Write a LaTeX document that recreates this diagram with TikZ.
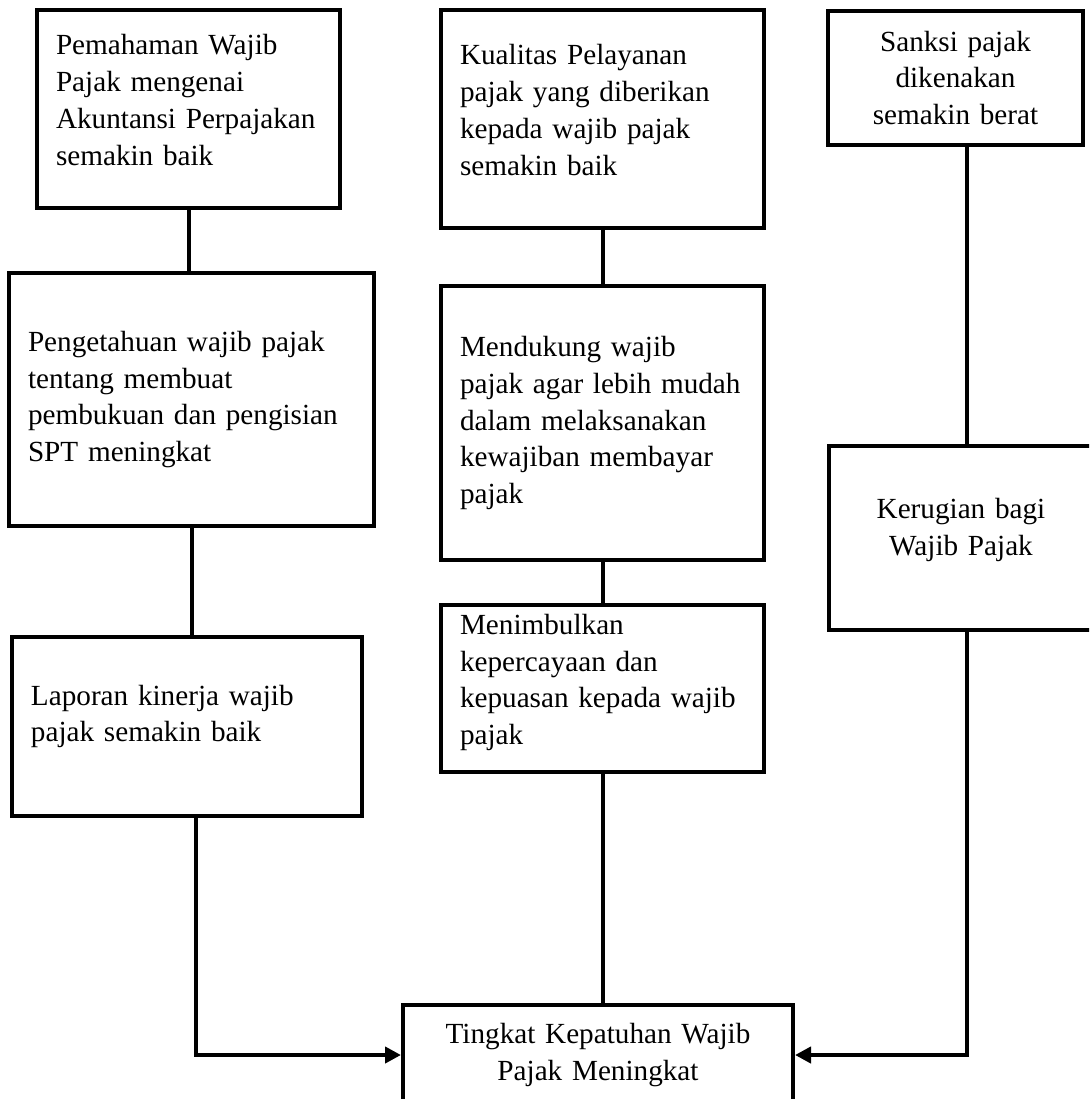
\documentclass[tikz,border=0pt]{standalone}
\usepackage{fontspec}
\setmainfont{Liberation Serif}
\usetikzlibrary{arrows.meta,positioning}
\hyphenpenalty=10000

\begin{document}
\begin{tikzpicture}[x=0.5pt,y=-0.5pt,
  every node/.style={font=\fontsize{14.6}{18.35}\selectfont},
  box/.style={draw,line width=2pt,inner xsep=9.5pt,inner ysep=0pt,align=left},
  cbox/.style={draw,line width=2pt,inner sep=0pt,align=center},
  conn/.style={line width=2pt},
  tip/.style={-{Triangle[length=8pt,width=8pt]}}]
\useasboundingbox (0,0) rectangle (1089,1099);
\clip (0,0) rectangle (1089,1099);
\fill[white] (0,0) rectangle (1089,1099);
% left column
\node[box,text width=132.5pt,minimum height=99pt] (pwp) at (188.5,109) {Pemahaman Wajib\\Pajak mengenai\\Akuntansi Perpajakan\\semakin baik\par\kern9pt};
\node[box,text width=163.5pt,minimum height=126.5pt] (pgt) at (191.5,399.5) {Pengetahuan wajib pajak\\tentang membuat\\pembukuan dan pengisian\\SPT meningkat};
\node[box,text width=156pt,minimum height=89.5pt] (lpr) at (187,726.5) {Laporan kinerja wajib\\pajak semakin baik\par\kern10pt};
% middle column
\node[box,text width=142.5pt,minimum height=109pt] (kpl) at (602.5,119) {Kualitas Pelayanan\\pajak yang diberikan\\kepada wajib pajak\\semakin baik\par\kern9pt};
\node[box,text width=142.5pt,minimum height=137pt] (pyn) at (602.5,423) {Mendukung wajib\\pajak agar lebih mudah\\dalam melaksanakan\\kewajiban membayar\\pajak};
\node[box,text width=142.5pt,minimum height=83.5pt] (mnb) at (602.5,688.5) {Menimbulkan\\kepercayaan dan\\kepuasan kepada wajib\\pajak\par\kern6pt};
% right column
\node[cbox,text width=127.5pt,minimum height=67pt] (snk) at (955.5,78) {Sanksi pajak\\dikenakan\\semakin berat};
\node[cbox,text width=132pt,minimum height=92pt] (krg) at (961,538) {Kerugian bagi\\Wajib Pajak\par\kern8pt};
% result
\node[cbox,text width=195pt,minimum height=50pt] (tkp) at (598,1055) {Tingkat Kepatuhan Wajib\\Pajak Meningkat};
% connectors
\draw[conn] (pwp.south) -- (pwp.south |- pgt.north);
\draw[conn] (pgt.south) -- (pgt.south |- lpr.north);
\draw[conn,tip] ([xshift=4.5pt]lpr.south) |- (tkp.west);
\draw[conn] (kpl.south) -- (pyn.north);
\draw[conn] (pyn.south) -- (mnb.north);
\draw[conn] (mnb.south) -- (mnb.south |- tkp.north);
\draw[conn] ([xshift=3pt]snk.south -| krg.north) -- ([xshift=3pt]krg.north);
\draw[conn,tip] ([xshift=3pt]krg.south) |- (tkp.east);
\end{tikzpicture}
\end{document}
